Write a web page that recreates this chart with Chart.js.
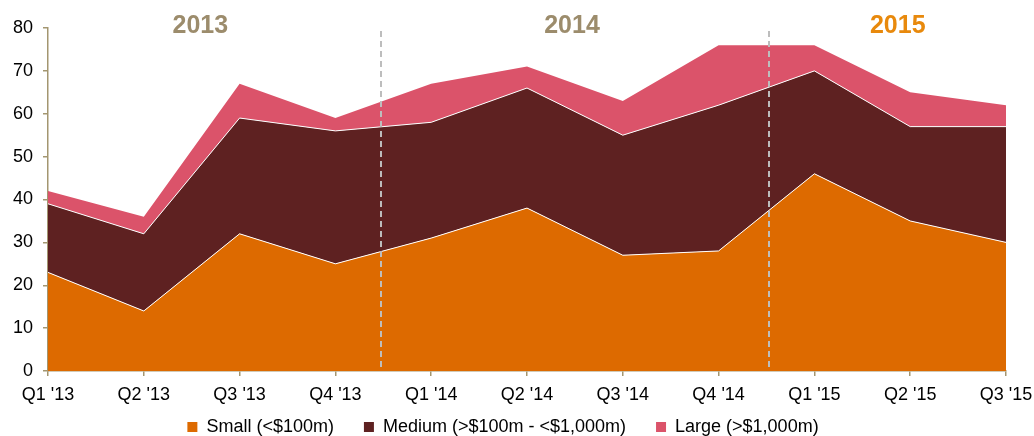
<!DOCTYPE html>
<html><head><meta charset="utf-8">
<script src="https://cdn.jsdelivr.net/npm/chart.js@4.4.0/dist/chart.umd.min.js"></script>
<style>html,body{margin:0;padding:0;background:#fff}#wrap{width:1034px;height:436px}</style>
</head><body><div id="wrap"><canvas id="c" width="1034" height="436"></canvas></div>
<script>
const categories = ["Q1 '13","Q2 '13","Q3 '13","Q4 '13","Q1 '14","Q2 '14","Q3 '14","Q4 '14","Q1 '15","Q2 '15","Q3 '15"];
const small  = [23, 14, 32, 25, 31, 38, 27, 28, 46, 35, 30];
const medium = [16, 18, 27, 31, 27, 28, 28, 34, 24, 22, 27];
const large  = [3, 4, 8, 3, 9, 5, 8, 14, 6, 8, 5];
const yearLabels = ["2013", "2014", "2015"];
const yearLabelAt = [1.59, 5.47, 8.87];
const yearLabelColors = ["#9C8C6C", "#9C8C6C", "#E8890C"];
const dividerAt = [3.476, 7.526];

const FONT = "'Liberation Sans', Arial, sans-serif";
const tan = '#A39670';

const legendShift = {
  id: 'legendShift',
  afterLayout(chart) {
    const lg = chart.legend;
    if (!lg) return;
    const d = -17;
    lg.top += d; lg.bottom += d;
    (lg.legendHitBoxes || []).forEach(h => { h.top += d; });
  }
};

const overlay = {
  id: 'overlay',
  afterDatasetsDraw(chart) {
    const {ctx, scales:{x}, chartArea} = chart;
    ctx.save();
    ctx.strokeStyle = '#BDBDBD';
    ctx.lineWidth = 2;
    ctx.setLineDash([6, 4]);
    dividerAt.forEach(v => {
      const px = Math.round(x.getPixelForValue(v));
      ctx.beginPath();
      ctx.moveTo(px, 31);
      ctx.lineTo(px, chartArea.bottom);
      ctx.stroke();
    });
    ctx.setLineDash([]);
    ctx.font = "bold 25px " + FONT;
    ctx.textAlign = 'center';
    ctx.textBaseline = 'middle';
    yearLabels.forEach((t, i) => {
      ctx.fillStyle = yearLabelColors[i];
      ctx.fillText(t, x.getPixelForValue(yearLabelAt[i]), 26);
    });
    ctx.restore();
  }
};

new Chart(document.getElementById('c'), {
  type: 'line',
  data: {
    labels: categories,
    datasets: [
      {label: 'Small (<$100m)', data: small, backgroundColor: '#DD6A00', borderColor: '#FFFFFF', borderWidth: 1, fill: 'origin', pointRadius: 0, tension: 0},
      {label: 'Medium (>$100m - <$1,000m)', data: medium, backgroundColor: '#5E2121', borderColor: '#FFFFFF', borderWidth: 1, fill: '-1', pointRadius: 0, tension: 0},
      {label: 'Large (>$1,000m)', data: large, backgroundColor: '#DB536A', borderColor: '#DB536A', borderWidth: 0, fill: '-1', pointRadius: 0, tension: 0}
    ]
  },
  options: {
    responsive: false,
    animation: false,
    layout: {padding: {top: 28, right: 28, left: 0, bottom: -27}},
    plugins: {
      legend: {
        position: 'bottom',
        labels: {
          font: {family: FONT, size: 18},
          color: '#000',
          boxWidth: 10, boxHeight: 10,
          padding: 30,
          generateLabels(chart) {
            return chart.data.datasets.map((d, i) => ({
              text: d.label, fillStyle: d.backgroundColor, strokeStyle: d.backgroundColor,
              lineWidth: 0, hidden: false, datasetIndex: i
            }));
          }
        }
      },
      tooltip: {enabled: false}
    },
    scales: {
      x: {
        offset: false,
        grid: {display: true, drawOnChartArea: false, drawTicks: true, tickLength: 5, color: tan, lineWidth: 1.5},
        border: {display: true, color: tan, width: 1.5},
        ticks: {font: {family: FONT, size: 18}, color: '#000', maxRotation: 0, autoSkip: false, padding: 8},
        afterFit(s) { s.height = 34; s.paddingRight = 0; s.paddingLeft = 0; }
      },
      y: {
        stacked: true,
        min: 0, max: 80,
        ticks: {stepSize: 10, font: {family: FONT, size: 18}, color: '#000', padding: 10},
        grid: {display: true, drawOnChartArea: false, drawTicks: true, tickLength: 5, color: tan, lineWidth: 1.5},
        border: {display: true, color: tan, width: 1.5},
        afterFit(s) { s.width = 48; }
      }
    }
  },
  plugins: [overlay, legendShift]
});
</script></body></html>
